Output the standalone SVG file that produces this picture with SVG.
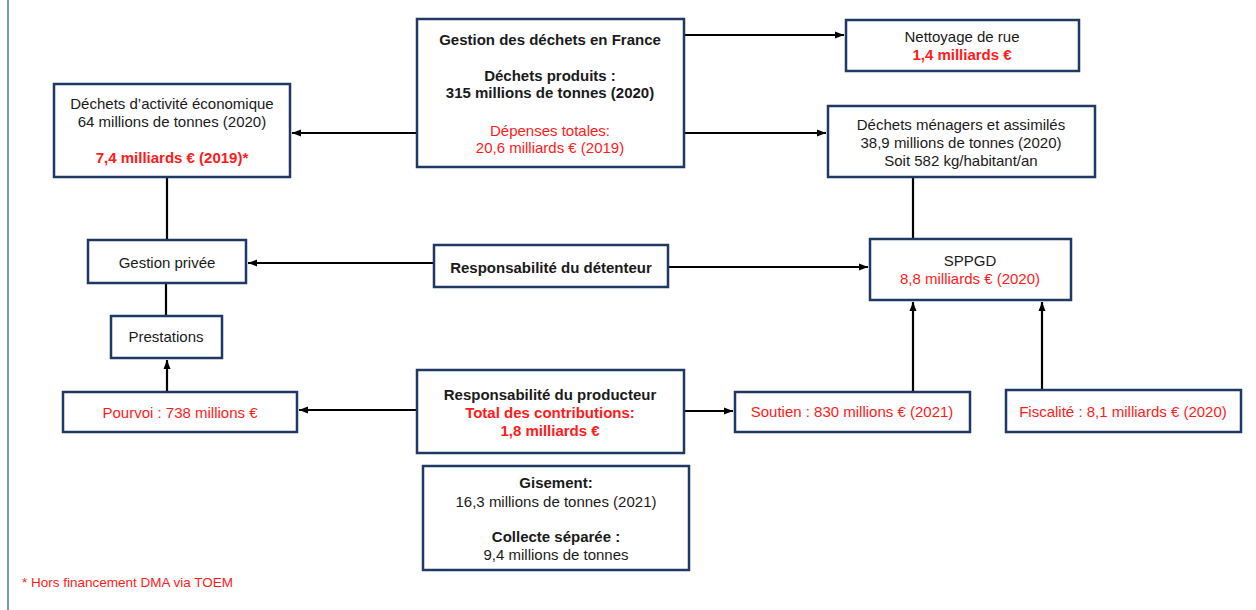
<svg xmlns="http://www.w3.org/2000/svg" width="1256" height="610" viewBox="0 0 1256 610">
<style>
.box{fill:#fff;stroke:#1F3864;stroke-width:2.5}
.t{font-family:"Liberation Sans",Arial,sans-serif;font-size:15px;fill:#1a1a1a;text-anchor:middle}
.b{font-weight:bold}
.r{fill:#ff1a1a}
.c{stroke:#000;stroke-width:2.2;fill:none}
.a{marker-end:url(#ah)}
</style>
<defs>
<marker id="ah" markerUnits="userSpaceOnUse" markerWidth="9" markerHeight="8" refX="9" refY="4" orient="auto">
<path d="M0,0.5 L9,4 L0,7.5 z" fill="#000"/>
</marker>
</defs>
<rect width="1256" height="610" fill="#fff"/>
<line x1="8" y1="0" x2="8" y2="610" stroke="#4472C4" stroke-width="1.5"/>
<g id="connectors">
<line class="c a" x1="416" y1="133" x2="292" y2="133"/>
<line class="c a" x1="685" y1="35" x2="844" y2="35"/>
<line class="c a" x1="685" y1="133" x2="826" y2="133"/>
<line class="c a" x1="433" y1="263" x2="248" y2="263"/>
<line class="c a" x1="669" y1="267" x2="868" y2="267"/>
<line class="c a" x1="416" y1="410" x2="299" y2="410"/>
<line class="c a" x1="685" y1="411" x2="733" y2="411"/>
<line class="c a" x1="167" y1="391" x2="167" y2="360"/>
<line class="c a" x1="913" y1="391" x2="913" y2="302"/>
<line class="c a" x1="1042" y1="389" x2="1042" y2="302"/>
<line class="c" x1="167" y1="178" x2="167" y2="239"/>
<line class="c" x1="166" y1="284" x2="166" y2="315"/>
<line class="c" x1="913" y1="178" x2="913" y2="238"/>
</g>
<g id="gestion">
<rect class="box" x="417" y="19" width="267" height="148"/>
<text class="t b" x="550" y="45">Gestion des déchets en France</text>
<text class="t b" x="550" y="81">Déchets produits :</text>
<text class="t b" x="550" y="98">315 millions de tonnes (2020)</text>
<text class="t r" x="550" y="136">Dépenses totales:</text>
<text class="t r" x="550" y="153">20,6 milliards € (2019)</text>
</g>
<g id="dae">
<rect class="box" x="54" y="84" width="236" height="93"/>
<text class="t" x="172" y="109">Déchets d’activité économique</text>
<text class="t" x="172" y="127">64 millions de tonnes (2020)</text>
<text class="t b r" x="172" y="163">7,4 milliards € (2019)*</text>
</g>
<g id="nettoyage">
<rect class="box" x="846" y="20" width="233" height="51"/>
<text class="t" x="962" y="42">Nettoyage de rue</text>
<text class="t b r" x="962" y="60">1,4 milliards €</text>
</g>
<g id="dma">
<rect class="box" x="828" y="106" width="267" height="71"/>
<text class="t" x="961" y="130">Déchets ménagers et assimilés</text>
<text class="t" x="961" y="148">38,9 millions de tonnes (2020)</text>
<text class="t" x="961" y="166">Soit 582 kg/habitant/an</text>
</g>
<g id="gestion-privee">
<rect class="box" x="88" y="240" width="158" height="43"/>
<text class="t" x="167" y="268">Gestion privée</text>
</g>
<g id="prestations">
<rect class="box" x="111" y="316" width="111" height="42"/>
<text class="t" x="166" y="342">Prestations</text>
</g>
<g id="pourvoi">
<rect class="box" x="63" y="392" width="234" height="40"/>
<text class="t r" x="180" y="418">Pourvoi : 738 millions €</text>
</g>
<g id="detenteur">
<rect class="box" x="434" y="245" width="234" height="42"/>
<text class="t b" x="551" y="273">Responsabilité du détenteur</text>
</g>
<g id="sppgd">
<rect class="box" x="870" y="239" width="201" height="61"/>
<text class="t" x="970" y="266">SPPGD</text>
<text class="t r" x="970" y="284">8,8 milliards € (2020)</text>
</g>
<g id="producteur">
<rect class="box" x="417" y="370" width="267" height="83"/>
<text class="t b" x="550" y="400">Responsabilité du producteur</text>
<text class="t b r" x="550" y="418">Total des contributions:</text>
<text class="t b r" x="550" y="436">1,8 milliards €</text>
</g>
<g id="soutien">
<rect class="box" x="735" y="392" width="235" height="40"/>
<text class="t r" x="852" y="417">Soutien : 830 millions € (2021)</text>
</g>
<g id="fiscalite">
<rect class="box" x="1006" y="390" width="235" height="42"/>
<text class="t r" x="1123" y="417">Fiscalité : 8,1 milliards € (2020)</text>
</g>
<g id="gisement">
<rect class="box" x="423" y="466" width="266" height="104"/>
<text class="t b" x="556" y="488">Gisement:</text>
<text class="t" x="556" y="507">16,3 millions de tonnes (2021)</text>
<text class="t b" x="556" y="542">Collecte séparée :</text>
<text class="t" x="556" y="560">9,4 millions de tonnes</text>
</g>
<text class="t r" x="22" y="587" style="text-anchor:start;font-size:13.5px">* Hors financement DMA via TOEM</text>
</svg>
